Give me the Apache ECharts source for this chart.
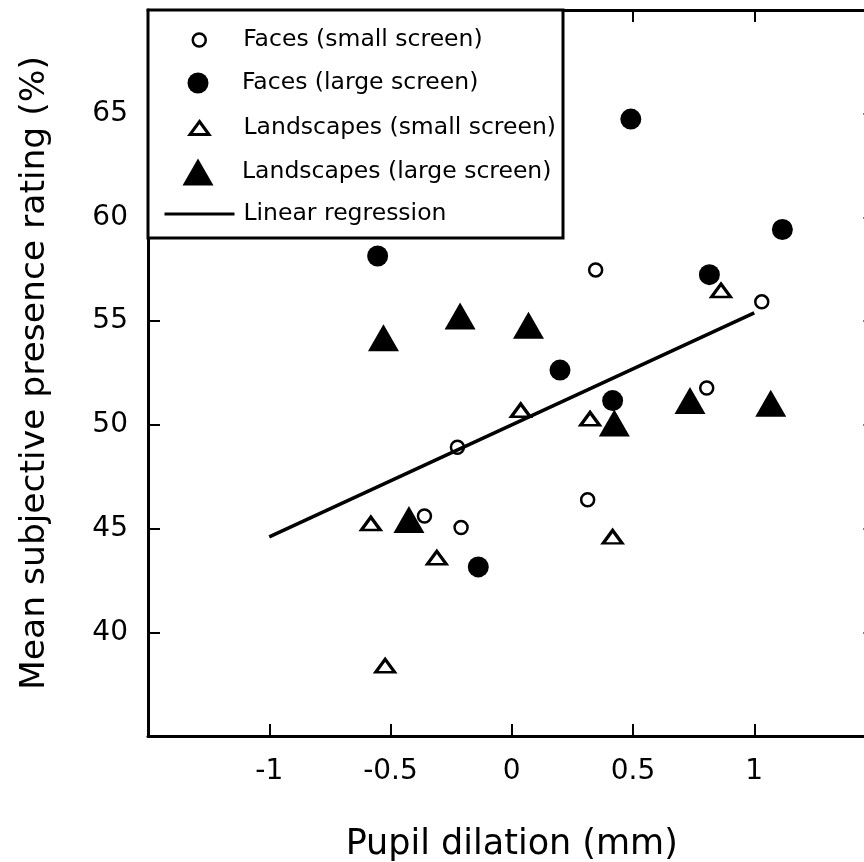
<!DOCTYPE html>
<html>
<head>
<meta charset="utf-8">
<script src="https://cdn.jsdelivr.net/npm/echarts@6/dist/echarts.min.js"></script>
<style>
  html, body { margin: 0; padding: 0; background: #fff; overflow: hidden; }
  #chart { width: 864px; height: 862px; }
</style>
</head>
<body>
<div id="chart"></div>
<script>
// ---- Data (x = pupil dilation mm, y = mean presence rating %) ----
const facesSmall = [
  [0.346, 57.47], [1.031, 55.93], [-0.224, 48.92], [0.313, 46.39],
  [0.804, 51.78], [-0.360, 45.61], [-0.209, 45.05]
];
const facesLarge = [
  [-0.553, 58.14], [0.491, 64.74], [1.116, 59.42], [0.815, 57.24],
  [0.199, 52.64], [0.416, 51.17], [-0.138, 43.15]
];
const landscapesSmall = [
  [0.863, 56.48], [0.037, 50.70], [0.323, 50.29], [-0.581, 45.24],
  [-0.309, 43.59], [-0.522, 38.39], [0.416, 44.60]
];
const landscapesLarge = [
  [-0.529, 54.20], [-0.213, 55.25], [0.069, 54.80], [0.423, 50.09],
  [0.735, 51.17], [1.068, 51.04], [-0.424, 45.44]
];
const regression = [[-1, 44.6], [1, 55.4]];

const seriesNames = [
  'Faces (small screen)',
  'Faces (large screen)',
  'Landscapes (small screen)',
  'Landscapes (large screen)',
  'Linear regression'
];
const xTitle = 'Pupil dilation (mm)';
const yTitle = 'Mean subjective presence rating (%)';

const FONT = 'DejaVu Sans';
const chart = echarts.init(document.getElementById('chart'), null, { renderer: 'canvas' });

const axisLineStyle = { color: '#000', width: 3 };
const tickStyle = { inside: true, length: 12, lineStyle: { color: '#000', width: 2 } };

function xLabel(v) { return Math.abs(v) > 1.4 ? '' : String(v); }
function yLabel(v) { return (v <= 35 || v >= 70) ? '' : String(v); }

const legendRows = [40, 83, 128, 172, 214];
const legendText = { fontFamily: FONT, fontSize: 23.5, color: '#000', lineHeight: 30, padding: [0, 0, 0, 4] };
// icon centre at x=198, text starting near x=242
function mkLegend(i, w, h, extra) {
  return Object.assign({
    data: [seriesNames[i]],
    left: 198 - w / 2,
    top: legendRows[i] - 15,
    orient: 'vertical',
    padding: 0,
    itemWidth: 70,
    itemHeight: h,
    selectedMode: false,
    textStyle: legendText,
    z: 6
  }, extra || {});
}

const option = {
  backgroundColor: '#fff',
  animation: false,
  grid: {
    left: 148, top: 10, width: 727.5, height: 726,
    containLabel: false, outerBoundsMode: 'none'
  },
  xAxis: [
    {
      type: 'value', min: -1.5, max: 1.5, interval: 0.5, position: 'bottom',
      axisLine: { show: true, onZero: false, lineStyle: axisLineStyle },
      axisTick: tickStyle,
      axisLabel: { formatter: xLabel, fontFamily: FONT, fontSize: 28, color: '#000', margin: 22 },
      splitLine: { show: false },
      name: xTitle, nameLocation: 'middle', nameGap: 91,
      nameTextStyle: { fontFamily: FONT, fontSize: 35, color: '#000' }
    },
    {
      type: 'value', min: -1.5, max: 1.5, interval: 0.5, position: 'top',
      axisLine: { show: true, onZero: false, lineStyle: axisLineStyle },
      axisTick: tickStyle,
      axisLabel: { show: false },
      splitLine: { show: false }
    }
  ],
  yAxis: [
    {
      type: 'value', min: 35, max: 70, interval: 5, position: 'left',
      axisLine: { show: true, onZero: false, lineStyle: axisLineStyle },
      axisTick: tickStyle,
      axisLabel: { formatter: yLabel, fontFamily: FONT, fontSize: 28, color: '#000', margin: 20 },
      splitLine: { show: false },
      name: yTitle, nameLocation: 'middle', nameGap: 95,
      nameTextStyle: { fontFamily: FONT, fontSize: 34.5, color: '#000' }
    },
    {
      type: 'value', min: 35, max: 70, interval: 5, position: 'right',
      axisLine: { show: true, onZero: false, lineStyle: axisLineStyle },
      axisTick: tickStyle,
      axisLabel: { show: false },
      splitLine: { show: false }
    }
  ],
  legend: [
    mkLegend(0, 13, 13, { itemStyle: { color: '#fff', borderColor: '#000', borderWidth: 2.5 } }),
    mkLegend(1, 21, 21),
    mkLegend(2, 19, 13, {
      data: [{ name: seriesNames[2], icon: 'path://M9.5,0L19,13L0,13Z' }],
      itemStyle: { color: '#fff', borderColor: '#000', borderWidth: 3 }
    }),
    mkLegend(3, 31, 27, { data: [{ name: seriesNames[3], icon: 'path://M15.5,0L31,27L0,27Z' }] }),
    mkLegend(4, 70, 14, { itemStyle: { opacity: 0 }, lineStyle: { color: '#000', width: 3 } })
  ],
  graphic: [
    {
      type: 'rect', z: 5,
      shape: { x: 148, y: 10, width: 415, height: 228 },
      style: { fill: '#fff', stroke: '#000', lineWidth: 3 }
    }
  ],
  series: [
    {
      name: seriesNames[1], type: 'scatter', data: facesLarge,
      symbol: 'circle', symbolSize: 21,
      itemStyle: { color: '#000', opacity: 1 }, emphasis: { disabled: true }
    },
    {
      name: seriesNames[3], type: 'scatter', data: landscapesLarge,
      symbol: 'triangle', symbolSize: [31, 27],
      itemStyle: { color: '#000', opacity: 1 }, emphasis: { disabled: true }
    },
    {
      name: seriesNames[0], type: 'scatter', data: facesSmall,
      symbol: 'circle', symbolSize: 13,
      itemStyle: { color: '#fff', borderColor: '#000', borderWidth: 2.5, opacity: 1 },
      emphasis: { disabled: true }
    },
    {
      name: seriesNames[2], type: 'scatter', data: landscapesSmall,
      symbol: 'triangle', symbolSize: [19, 13],
      itemStyle: { color: '#fff', borderColor: '#000', borderWidth: 3, opacity: 1 },
      emphasis: { disabled: true }
    },
    {
      name: seriesNames[4], type: 'line', data: regression,
      showSymbol: false, symbol: 'none',
      lineStyle: { color: '#000', width: 3.5 },
      itemStyle: { color: '#000' },
      emphasis: { disabled: true }
    }
  ]
};
chart.setOption(option);
</script>
</body>
</html>
